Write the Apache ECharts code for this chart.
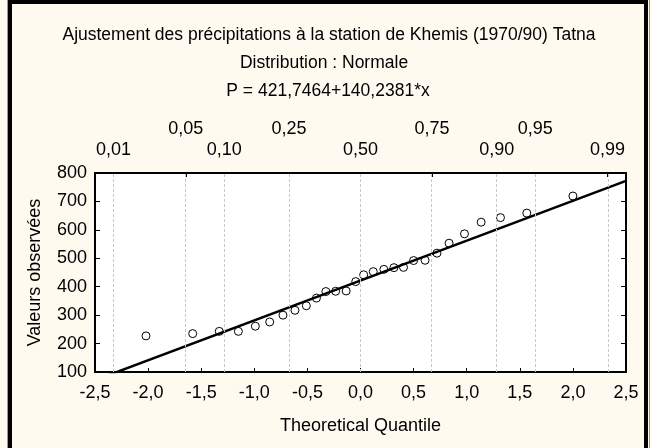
<!DOCTYPE html>
<html>
<head>
<meta charset="utf-8">
<script src="https://cdn.jsdelivr.net/npm/echarts@6/dist/echarts.min.js"></script>
<style>html,body{margin:0;padding:0;background:#fefaf0;}#c{width:651px;height:448px;}</style>
</head>
<body>
<div id="c"></div>
<script>
// ---- data ----
const titleLines = [
  'Ajustement des précipitations à la station de Khemis (1970/90) Tatna',
  'Distribution : Normale',
  'P = 421,7464+140,2381*x'
];
const xAxisName = 'Theoretical Quantile';
const yAxisName = 'Valeurs observées';
// probability scale on top axis (label, position in theoretical quantile)
const probRowUpperLabels = ['0,05', '0,25', '0,75', '0,95'];
const probRowUpperQuant = [-1.645, -0.674, 0.674, 1.645];
const probRowLowerLabels = ['0,01', '0,10', '0,50', '0,90', '0,99'];
const probRowLowerQuant = [-2.326, -1.282, 0, 1.282, 2.326];
const probAllQuant = [-2.326, -1.645, -1.282, -0.674, 0, 0.674, 1.282, 1.645, 2.326];
// observed points
const theoQuantile = [-2.02, -1.58, -1.33, -1.15, -0.99, -0.855, -0.73, -0.617, -0.51, -0.415, -0.326, -0.234, -0.135, -0.045,
  0.03, 0.12, 0.22, 0.315, 0.405, 0.5, 0.608, 0.72, 0.834, 0.979, 1.136, 1.318, 1.566, 2.0];
const observed = [227, 235, 243, 243, 261, 276, 300, 317, 333, 360, 383, 384, 385, 418,
  442, 453, 461, 467, 468, 492, 493, 518, 553, 586, 627, 643, 659, 719];
// fitted line endpoints (P = 421.7464 + 140.2381 x at x = -2.5 and 2.5)
const fitX = [-2.5, 2.5];
const fitY = [71.15, 772.34];

const FONT = "'Liberation Sans', Arial, sans-serif";
const FS = 18;
const FT = 17.5;
const chart = echarts.init(document.getElementById('c'), null, {renderer: 'canvas'});
const fmtComma = v => v.toFixed(1).replace('.', ',');
const lookup = (labels, quants) => v => {
  const i = quants.findIndex(q => Math.abs(q - v) < 1e-6);
  return i >= 0 ? labels[i] : '';
};
const axisLineStyle = {show: true, onZero: false, lineStyle: {color: '#000', width: 2}};
const labelStyle = {color: '#000', fontSize: FS, fontFamily: FONT};

chart.setOption({
  animation: false,
  backgroundColor: '#fefaf0',
  grid: {left: 95, right: 25, top: 173, bottom: 76, show: true, backgroundColor: '#fff', borderWidth: 0},
  graphic: [
    {type: 'line', shape: {x1: 7.5, y1: 0, x2: 7.5, y2: 448}, style: {stroke: '#9a9a9a', lineWidth: 1}, silent: true},
    {type: 'line', shape: {x1: 649.5, y1: 0, x2: 649.5, y2: 448}, style: {stroke: '#9a9a9a', lineWidth: 1}, silent: true},
    {type: 'rect', shape: {x: 10, y: 2, width: 636, height: 460}, style: {fill: 'none', stroke: '#000', lineWidth: 4}, silent: true},
    {type: 'text', x: 329, y: 35, style: {text: titleLines[0], font: FT + 'px ' + FONT, fill: '#000', textAlign: 'center', textVerticalAlign: 'middle'}},
    {type: 'text', x: 324, y: 63, style: {text: titleLines[1], font: FT + 'px ' + FONT, fill: '#000', textAlign: 'center', textVerticalAlign: 'middle'}},
    {type: 'text', x: 328, y: 91, style: {text: titleLines[2], font: FT + 'px ' + FONT, fill: '#000', textAlign: 'center', textVerticalAlign: 'middle'}}
  ],
  xAxis: [
    {
      type: 'value', position: 'bottom', min: -2.5, max: 2.5, interval: 0.5,
      axisLine: axisLineStyle,
      axisTick: {show: true, inside: true, length: 4, lineStyle: {color: '#000', width: 1}},
      axisLabel: Object.assign({margin: 12, formatter: fmtComma, showMinLabel: true, showMaxLabel: true}, labelStyle),
      splitLine: {show: false},
      name: xAxisName, nameLocation: 'middle', nameGap: 45,
      nameTextStyle: {color: '#000', fontSize: FS, fontFamily: FONT}
    },
    {
      type: 'value', position: 'top', min: -2.5, max: 2.5,
      axisLine: axisLineStyle,
      axisTick: {show: true, inside: true, length: 4, customValues: probAllQuant, lineStyle: {color: '#000', width: 1}},
      axisLabel: Object.assign({margin: 14, customValues: probRowLowerQuant, formatter: lookup(probRowLowerLabels, probRowLowerQuant)}, labelStyle),
      splitLine: {show: false}
    },
    {
      type: 'value', position: 'top', min: -2.5, max: 2.5,
      axisLine: {show: false},
      axisTick: {show: false},
      axisLabel: Object.assign({margin: 35, customValues: probRowUpperQuant, formatter: lookup(probRowUpperLabels, probRowUpperQuant)}, labelStyle),
      splitLine: {show: false}
    }
  ],
  yAxis: [
    {
      type: 'value', position: 'left', min: 100, max: 800, interval: 100,
      axisLine: axisLineStyle,
      axisTick: {show: true, inside: true, length: 5, lineStyle: {color: '#000', width: 1}},
      axisLabel: Object.assign({margin: 8}, labelStyle),
      splitLine: {show: false},
      name: yAxisName, nameLocation: 'middle', nameGap: 51, nameRotate: 90,
      nameTextStyle: {color: '#000', fontSize: FS, fontFamily: FONT}
    },
    {
      type: 'value', position: 'right', min: 100, max: 800, interval: 100,
      axisLine: axisLineStyle,
      axisTick: {show: true, inside: true, length: 5, lineStyle: {color: '#000', width: 1}},
      axisLabel: {show: false},
      splitLine: {show: false}
    }
  ],
  series: [
    {
      type: 'line', xAxisIndex: 0, yAxisIndex: 0, data: [], z: 1, silent: true,
      markLine: {
        silent: true, symbol: ['none', 'none'], label: {show: false},
        lineStyle: {type: [3, 2], color: '#c8c8c8', width: 1},
        data: probAllQuant.map(q => ({xAxis: q}))
      }
    },
    {
      type: 'line', xAxisIndex: 0, yAxisIndex: 0, z: 3, silent: true,
      data: fitX.map((x, i) => [x, fitY[i]]),
      showSymbol: false, clip: true,
      lineStyle: {color: '#000', width: 2.5}
    },
    {
      type: 'scatter', xAxisIndex: 0, yAxisIndex: 0, z: 4,
      data: theoQuantile.map((x, i) => [x, observed[i]]),
      symbol: 'circle', symbolSize: 8,
      itemStyle: {color: 'rgba(255,255,255,0)', borderColor: '#000', borderWidth: 1, opacity: 1}
    }
  ]
});
</script>
</body>
</html>
